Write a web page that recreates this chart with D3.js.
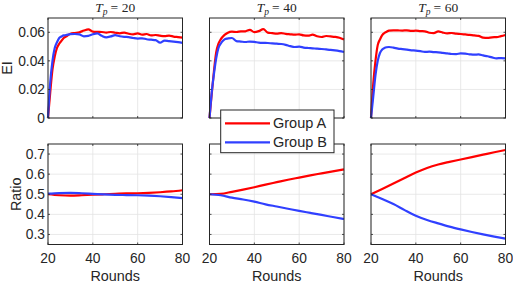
<!DOCTYPE html>
<html>
<head>
<meta charset="utf-8">
<script src="https://cdn.jsdelivr.net/npm/d3@7"></script>
<style>
  body { margin: 0; background: #fff; }
  text { font-family: "Liberation Sans", Arial, sans-serif; fill: #262626; }
</style>
</head>
<body>
<svg id="chart"></svg>
<script>
// rounds where EI was sampled
const roundsEI = [20,21,22,23,24,25,26,27,28,30,32,34,36,38,40,42,44,46,48,50,52,54,56,58,60,62,64,66,68,70,72,74,76,78,80];
const roundsRatio = [20,25,30,35,40,45,50,55,60,65,70,75,80];

const tpLabels = ["20", "40", "60"];
const groups = ["Group A", "Group B"];

// EI, Tp = 20
const eiA20 = [0,0.018,0.034,0.043,0.049,0.052,0.054,0.056,0.057,0.059,0.0595,0.060,0.0612,0.062,0.0605,0.0603,0.0602,0.0598,0.0602,0.0597,0.0593,0.0598,0.059,0.0586,0.0592,0.0583,0.0588,0.0578,0.0581,0.0576,0.0573,0.0576,0.057,0.0566,0.0562];
const eiB20 = [0,0.025,0.040,0.049,0.053,0.056,0.057,0.0578,0.058,0.0587,0.0588,0.0585,0.0572,0.0575,0.0586,0.0592,0.0575,0.0565,0.0571,0.058,0.0572,0.0568,0.0566,0.056,0.0556,0.0558,0.0551,0.0548,0.0545,0.0527,0.0542,0.0538,0.0535,0.0531,0.0526];
// EI, Tp = 40
const eiA40 = [0,0.017,0.033,0.046,0.052,0.055,0.057,0.0585,0.0595,0.0604,0.0602,0.0606,0.0607,0.0617,0.0601,0.0608,0.0622,0.0598,0.0594,0.059,0.0594,0.0589,0.0586,0.0583,0.0586,0.0578,0.0576,0.0583,0.0572,0.0567,0.0574,0.0571,0.0568,0.0562,0.0549];
const eiB40 = [0,0.018,0.031,0.042,0.049,0.052,0.054,0.0553,0.0556,0.056,0.0538,0.0535,0.0532,0.0535,0.0533,0.0528,0.0526,0.0525,0.0522,0.052,0.0518,0.0512,0.0503,0.0497,0.0499,0.0493,0.049,0.0488,0.0485,0.0483,0.048,0.0477,0.0473,0.0468,0.0462];
// EI, Tp = 60
const eiA60 = [0,0.024,0.040,0.051,0.055,0.058,0.0595,0.0604,0.0612,0.0614,0.0613,0.0612,0.0614,0.061,0.0611,0.0608,0.0607,0.0597,0.0594,0.0606,0.0598,0.0593,0.0595,0.059,0.0588,0.0585,0.0582,0.0578,0.0575,0.0563,0.0561,0.0565,0.0566,0.0573,0.0581];
const eiB60 = [0,0.015,0.030,0.040,0.0455,0.048,0.049,0.0495,0.0497,0.0493,0.0486,0.0482,0.0478,0.0474,0.0472,0.0468,0.0463,0.0464,0.0461,0.046,0.0456,0.0453,0.0448,0.0447,0.0452,0.045,0.0446,0.0443,0.0445,0.0438,0.0432,0.0424,0.0418,0.0419,0.0418];

// group ratio
const ratioA20 = [0.5,0.495,0.493,0.495,0.498,0.500,0.502,0.504,0.505,0.507,0.510,0.514,0.520];
const ratioB20 = [0.503,0.506,0.507,0.505,0.502,0.499,0.497,0.496,0.495,0.493,0.490,0.486,0.481];
const ratioA40 = [0.5,0.502,0.512,0.523,0.535,0.548,0.560,0.572,0.583,0.594,0.604,0.614,0.624];
const ratioB40 = [0.5,0.495,0.483,0.474,0.463,0.450,0.439,0.428,0.417,0.407,0.397,0.387,0.377];
const ratioA60 = [0.5,0.526,0.553,0.581,0.608,0.631,0.648,0.661,0.673,0.685,0.697,0.709,0.720];
const ratioB60 = [0.5,0.476,0.451,0.421,0.393,0.372,0.355,0.339,0.325,0.312,0.300,0.289,0.279];

const eiData = [[eiA20, eiB20], [eiA40, eiB40], [eiA60, eiB60]];
const ratioData = [[ratioA20, ratioB20], [ratioA40, ratioB40], [ratioA60, ratioB60]];

const colors = ["#ff0000", "#3040ff"];
const axisColor = "#262626";
const gridColor = "#e3e3e3";

const width = 513, height = 286;
const svg = d3.select("#chart").attr("width", width).attr("height", height);

const colX = [48, 209.5, 371];
const panelW = 134.5;
const topY = [18, 118];
const botY = [144, 244.5];

const x = d3.scaleLinear().domain([20, 80]);
const yEI = d3.scaleLinear().domain([0, 0.07]).range([topY[1], topY[0]]);
const yRatio = d3.scaleLinear().domain([0.25, 0.75]).range([botY[1], botY[0]]);

const eiTicks = [0, 0.02, 0.04, 0.06];
const ratioTicks = [0.3, 0.4, 0.5, 0.6, 0.7];
const xTicks = [20, 40, 60, 80];

function panel(col, yScale, yTicks, yFmt, rounds, series, showX) {
  const x0 = colX[col];
  const xs = x.copy().range([x0, x0 + panelW]);
  const [y1, y0] = yScale.range();
  const g = svg.append("g");

  // grid
  g.selectAll(".gx").data(xTicks).enter().append("line")
    .attr("x1", d => xs(d)).attr("x2", d => xs(d))
    .attr("y1", y0).attr("y2", y1)
    .attr("stroke", gridColor).attr("stroke-width", 0.8);
  g.selectAll(".gy").data(yTicks).enter().append("line")
    .attr("x1", x0).attr("x2", x0 + panelW)
    .attr("y1", d => yScale(d)).attr("y2", d => yScale(d))
    .attr("stroke", gridColor).attr("stroke-width", 0.8);

  // lines
  const line = d3.line()
    .x((d, i) => xs(rounds[i]))
    .y(d => yScale(d))
    .curve(d3.curveMonotoneX);
  series.forEach((s, k) => {
    g.append("path").datum(s)
      .attr("d", line)
      .attr("fill", "none")
      .attr("stroke", colors[k])
      .attr("stroke-width", 2.2)
      .attr("stroke-linejoin", "round");
  });

  // inner ticks on all sides
  const tl = 2;
  xTicks.forEach(t => {
    g.append("line").attr("x1", xs(t)).attr("x2", xs(t)).attr("y1", y1).attr("y2", y1 - tl)
      .attr("stroke", axisColor).attr("stroke-width", 0.8);
    g.append("line").attr("x1", xs(t)).attr("x2", xs(t)).attr("y1", y0).attr("y2", y0 + tl)
      .attr("stroke", axisColor).attr("stroke-width", 0.8);
  });
  yTicks.forEach(t => {
    g.append("line").attr("x1", x0).attr("x2", x0 + tl).attr("y1", yScale(t)).attr("y2", yScale(t))
      .attr("stroke", axisColor).attr("stroke-width", 0.8);
    g.append("line").attr("x1", x0 + panelW).attr("x2", x0 + panelW - tl).attr("y1", yScale(t)).attr("y2", yScale(t))
      .attr("stroke", axisColor).attr("stroke-width", 0.8);
  });

  // box
  g.append("rect")
    .attr("x", x0).attr("y", y0)
    .attr("width", panelW).attr("height", y1 - y0)
    .attr("fill", "none").attr("stroke", axisColor).attr("stroke-width", 1);

  if (col === 0) {
    g.selectAll(".yl").data(yTicks).enter().append("text")
      .attr("x", x0 - 3).attr("y", d => yScale(d))
      .attr("dy", "0.35em").attr("text-anchor", "end")
      .attr("font-size", 13.8)
      .text(yFmt);
  }
  if (showX) {
    g.selectAll(".xl").data(xTicks).enter().append("text")
      .attr("x", d => xs(d)).attr("y", y1 + 18)
      .attr("text-anchor", "middle").attr("font-size", 13.8)
      .text(d => d);
    g.append("text")
      .attr("x", x0 + panelW / 2).attr("y", y1 + 36.5)
      .attr("text-anchor", "middle").attr("font-size", 14.4)
      .text("Rounds");
  }
}

for (let c = 0; c < 3; c++) {
  panel(c, yEI, eiTicks, d => d === 0 ? "0" : d3.format(".2f")(d), roundsEI, eiData[c], false);
  panel(c, yRatio, ratioTicks, d => d3.format(".1f")(d), roundsRatio, ratioData[c], true);

  const t = svg.append("text")
    .attr("x", colX[c] + panelW / 2).attr("y", 12)
    .attr("text-anchor", "middle")
    .attr("font-size", 13.5)
    .style("font-family", "'Liberation Serif', 'DejaVu Serif', serif");
  t.append("tspan").attr("font-style", "italic").text("T");
  t.append("tspan").attr("font-style", "italic").attr("font-size", 9.5).attr("dy", 2.5).text("p");
  t.append("tspan").attr("dy", -2.5).attr("dx", 3).text("=");
  t.append("tspan").attr("dx", 3.5).text(tpLabels[c]);
}

// y axis labels
svg.append("text")
  .attr("transform", `translate(12,${(topY[0] + topY[1]) / 2}) rotate(-90)`)
  .attr("text-anchor", "middle").attr("font-size", 14.4)
  .text("EI");
svg.append("text")
  .attr("transform", `translate(20.5,${(botY[0] + botY[1]) / 2}) rotate(-90)`)
  .attr("text-anchor", "middle").attr("font-size", 14.4)
  .text("Ratio");

// legend
const leg = svg.append("g");
leg.append("rect")
  .attr("x", 220.7).attr("y", 110).attr("width", 113.3).attr("height", 42.7)
  .attr("fill", "#fff").attr("stroke", axisColor).attr("stroke-width", 1);
groups.forEach((name, k) => {
  const ly = 123.3 + k * 19;
  leg.append("line").attr("x1", 225).attr("x2", 270).attr("y1", ly).attr("y2", ly)
    .attr("stroke", colors[k]).attr("stroke-width", 2.2);
  leg.append("text").attr("x", 273).attr("y", ly).attr("dy", "0.35em")
    .attr("font-size", 14.5).text(name);
});
</script>
</body>
</html>
